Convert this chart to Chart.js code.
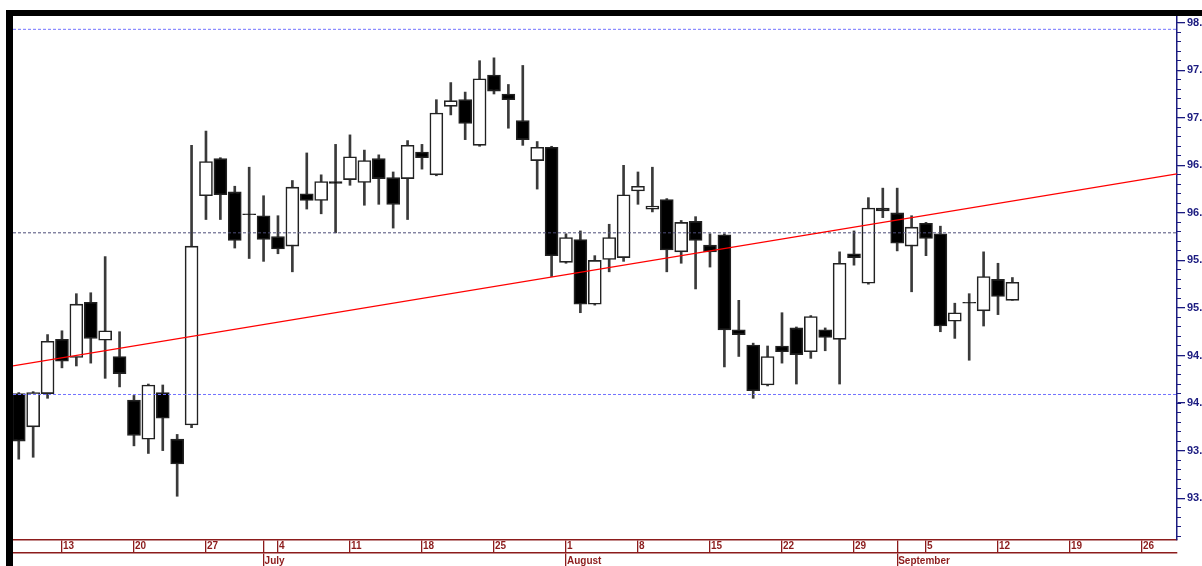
<!DOCTYPE html>
<html lang="en">
<head>
<meta charset="UTF-8">
<title>Daily candles Jun - Sep</title>
<script src="https://cdn.jsdelivr.net/npm/chart.js@4"></script>
<style>
  html, body { margin: 0; padding: 0; background: #fff; overflow: hidden; }
  #frame { position: absolute; left: 6px; top: 10px; width: 1189px; height: 550px;
           border-left: 7px solid #000; border-top: 6px solid #000; }
  canvas { display: block; }
</style>
</head>
<body>
<div id="frame"><canvas id="chart" width="1189" height="550"></canvas></div>
<script>
// one slot per weekday, slot 0 = Wed 8 June
const opens  = [94.10, 93.75, 94.10, 94.67, 94.48, 95.06, 94.66, 94.49, 94.03, 93.62,
                94.11, 93.62, 93.77, 96.18, 96.57, 96.22, 95.99, 95.97, 95.75, 95.65,
                96.20, 96.13, 96.33, 96.35, 96.32, 96.57, 96.37, 96.36, 96.64, 96.40,
                97.12, 97.19, 96.71, 97.45, 97.25, 96.97, 96.55, 96.69, 95.48, 95.72,
                95.04, 95.51, 95.53, 96.23, 96.04, 96.14, 95.59, 95.91, 95.66, 95.77,
                94.77, 94.61, 94.19, 94.60, 94.79, 94.54, 94.77, 94.67, 95.57, 95.26,
                96.05, 96.00, 95.65, 95.89, 95.78, 94.86, 95.06, 94.97, 95.30, 95.08];
const highs  = [94.11, 94.12, 94.72, 94.76, 95.15, 95.16, 95.54, 94.75, 94.08, 94.20,
                94.19, 93.67, 96.71, 96.86, 96.58, 96.28, 96.48, 96.18, 95.97, 96.34,
                96.63, 96.40, 96.72, 96.82, 96.66, 96.61, 96.43, 96.76, 96.72, 97.19,
                97.37, 97.27, 97.60, 97.63, 97.35, 97.55, 96.75, 96.70, 95.78, 95.81,
                95.55, 95.88, 96.50, 96.43, 96.48, 96.15, 95.92, 95.96, 95.78, 95.78,
                95.08, 94.63, 94.60, 94.95, 94.80, 94.92, 94.79, 95.59, 95.81, 96.16,
                96.26, 96.26, 95.97, 95.90, 95.86, 95.05, 95.15, 95.59, 95.47, 95.32];
const lows   = [93.41, 93.43, 94.05, 94.37, 94.39, 94.42, 94.26, 94.17, 93.55, 93.47,
                93.50, 93.02, 93.74, 95.93, 95.93, 95.63, 95.52, 95.49, 95.57, 95.38,
                96.04, 95.99, 95.79, 96.29, 96.08, 96.09, 95.84, 95.93, 96.46, 96.39,
                97.03, 96.77, 96.70, 97.25, 96.89, 96.71, 96.25, 95.33, 95.47, 94.95,
                95.03, 95.38, 95.49, 96.09, 96.01, 95.38, 95.47, 95.20, 95.43, 94.38,
                94.49, 94.05, 94.18, 94.42, 94.20, 94.47, 94.55, 94.20, 95.45, 95.25,
                95.95, 95.60, 95.17, 95.55, 94.75, 94.68, 94.45, 94.81, 94.93, 95.08];
const closes = [93.60, 94.11, 94.65, 94.44, 95.04, 94.68, 94.76, 94.31, 93.66, 94.19,
                93.84, 93.36, 95.65, 96.54, 96.19, 95.71, 95.98, 95.72, 95.62, 96.27,
                96.13, 96.33, 96.31, 96.59, 96.55, 96.36, 96.09, 96.71, 96.58, 97.05,
                97.18, 96.94, 97.41, 97.28, 97.19, 96.77, 96.69, 95.55, 95.74, 95.04,
                95.50, 95.74, 96.19, 96.28, 96.07, 95.61, 95.90, 95.71, 95.59, 94.77,
                94.72, 94.13, 94.49, 94.54, 94.51, 94.91, 94.69, 95.47, 95.53, 96.05,
                96.02, 95.68, 95.85, 95.73, 94.81, 94.95, 95.05, 95.33, 95.12, 95.27];

const weekTicks   = [3, 8, 13, 18, 23, 28, 33, 38, 43, 48, 53, 58, 63, 68, 73, 78];
const weekLabels  = ['13', '20', '27', '4', '11', '18', '25', '1', '8', '15', '22', '29', '5', '12', '19', '26'];
const monthTicks  = [17, 38, 61];
const monthLabels = ['July', 'August', 'September'];
const priceTicks  = [93.0, 93.5, 94.0, 94.5, 95.0, 95.5, 96.0, 96.5, 97.0, 97.5, 98.0];

const trendX = [-0.4, 80.43];
const trendY = [94.39, 96.41];
const levelTop = 97.93;
const levelMid = 95.79;
const levelLow = 94.09;

const xMin = -0.4, xMax = 80.43;
const yMin = 92.56, yMax = 98.07;

const RED = '#8c1c1c';
const NAVY = '#1b1b80';
const tickFont = { family: 'Arial, "Liberation Sans", sans-serif', size: 10, weight: 'bold' };
const priceFont = { family: 'Arial, "Liberation Sans", sans-serif', size: 11, weight: 'bold' };

const bodies = opens.map((o, i) => ({ x: i, y: [o, closes[i]] }));
const wicks = lows.map((l, i) => ({ x: i, y: [l, highs[i]] }));
const bodyFill = opens.map((o, i) => closes[i] >= o ? '#ffffff' : '#000000');

function hline(v) {
    return [{ x: xMin, y: v }, { x: xMax, y: v }];
}

function noPad(scale) {
    scale.paddingLeft = 0; scale.paddingRight = 0;
    scale.paddingTop = 0; scale.paddingBottom = 0;
}

const xTickSet = [...new Set(weekTicks.concat(monthTicks))].sort((a, b) => a - b);

new Chart(document.getElementById('chart'), {
    type: 'bar',
    data: {
        datasets: [
            { type: 'line', data: trendX.map((x, i) => ({ x: x, y: trendY[i] })),
              borderColor: '#ff0000', borderWidth: 1.3, pointRadius: 0, order: 0 },
            { type: 'line', data: hline(levelTop), borderColor: '#7272ff', borderWidth: 1,
              borderDash: [3, 2], pointRadius: 0, order: 0 },
            { type: 'line', data: hline(levelMid), borderColor: '#4d4d78', borderWidth: 1,
              borderDash: [3, 2], pointRadius: 0, order: 0 },
            { type: 'line', data: hline(levelLow), borderColor: '#7272ff', borderWidth: 1,
              borderDash: [3, 2], pointRadius: 0, order: 0 },
            { data: bodies, backgroundColor: bodyFill, borderColor: '#222', borderWidth: 1.6,
              borderSkipped: false, barThickness: 13, grouped: false, order: 1 },
            { data: wicks, backgroundColor: '#3a3a3a', borderWidth: 0,
              barThickness: 2, grouped: false, order: 2 }
        ]
    },
    options: {
        responsive: false,
        animation: false,
        devicePixelRatio: 1,
        layout: { padding: 0 },
        plugins: { legend: { display: false }, tooltip: { enabled: false } },
        scales: {
            x: {
                type: 'linear', position: 'bottom', min: xMin, max: xMax, offset: false, weight: 0,
                grid: { offset: false, drawOnChartArea: false, drawTicks: true, tickLength: 13, color: RED, lineWidth: 1.3 },
                border: { display: true, color: RED, width: 1.5 },
                ticks: {
                    autoSkip: false, maxRotation: 0, minRotation: 0, align: 'start', padding: -13,
                    labelOffset: 1, color: RED, font: tickFont,
                    callback: v => { const k = weekTicks.indexOf(v); return k >= 0 ? weekLabels[k] : ''; }
                },
                afterBuildTicks: s => { s.ticks = xTickSet.map(v => ({ value: v })); },
                afterFit: s => { s.height = 13; noPad(s); }
            },
            xm: {
                type: 'linear', position: 'bottom', min: xMin, max: xMax, offset: false, weight: 1,
                grid: { offset: false, drawOnChartArea: false, drawTicks: true, tickLength: 13, color: RED, lineWidth: 1.3 },
                border: { display: true, color: RED, width: 1.5 },
                ticks: {
                    autoSkip: false, maxRotation: 0, minRotation: 0, align: 'start', padding: -11,
                    labelOffset: 1, color: RED, font: tickFont,
                    callback: v => { const k = monthTicks.indexOf(v); return k >= 0 ? monthLabels[k] : ''; }
                },
                afterBuildTicks: s => { s.ticks = monthTicks.map(v => ({ value: v })); },
                afterFit: s => { s.height = 13; noPad(s); }
            },
            ym: {
                type: 'linear', position: 'right', min: yMin, max: yMax, weight: 0,
                grid: { drawOnChartArea: false, drawTicks: true, tickLength: 4, color: NAVY, lineWidth: 1 },
                border: { display: false },
                ticks: { display: false },
                afterBuildTicks: s => {
                    const t = [];
                    for (let k = Math.ceil(yMin * 10); k <= Math.floor(yMax * 10); k++) t.push({ value: k / 10 });
                    s.ticks = t;
                },
                afterFit: s => { s.width = 0; noPad(s); }
            },
            y: {
                type: 'linear', position: 'right', min: yMin, max: yMax, weight: 1,
                grid: { drawOnChartArea: false, drawTicks: true, tickLength: 8, color: NAVY, lineWidth: 1.3 },
                border: { display: true, color: NAVY, width: 1.5 },
                ticks: { padding: 2, color: NAVY, font: priceFont, callback: v => v.toFixed(1) },
                afterBuildTicks: s => { s.ticks = priceTicks.map(v => ({ value: v })); },
                afterFit: s => { s.width = 25; noPad(s); }
            }
        }
    }
});
</script>
</body>
</html>
